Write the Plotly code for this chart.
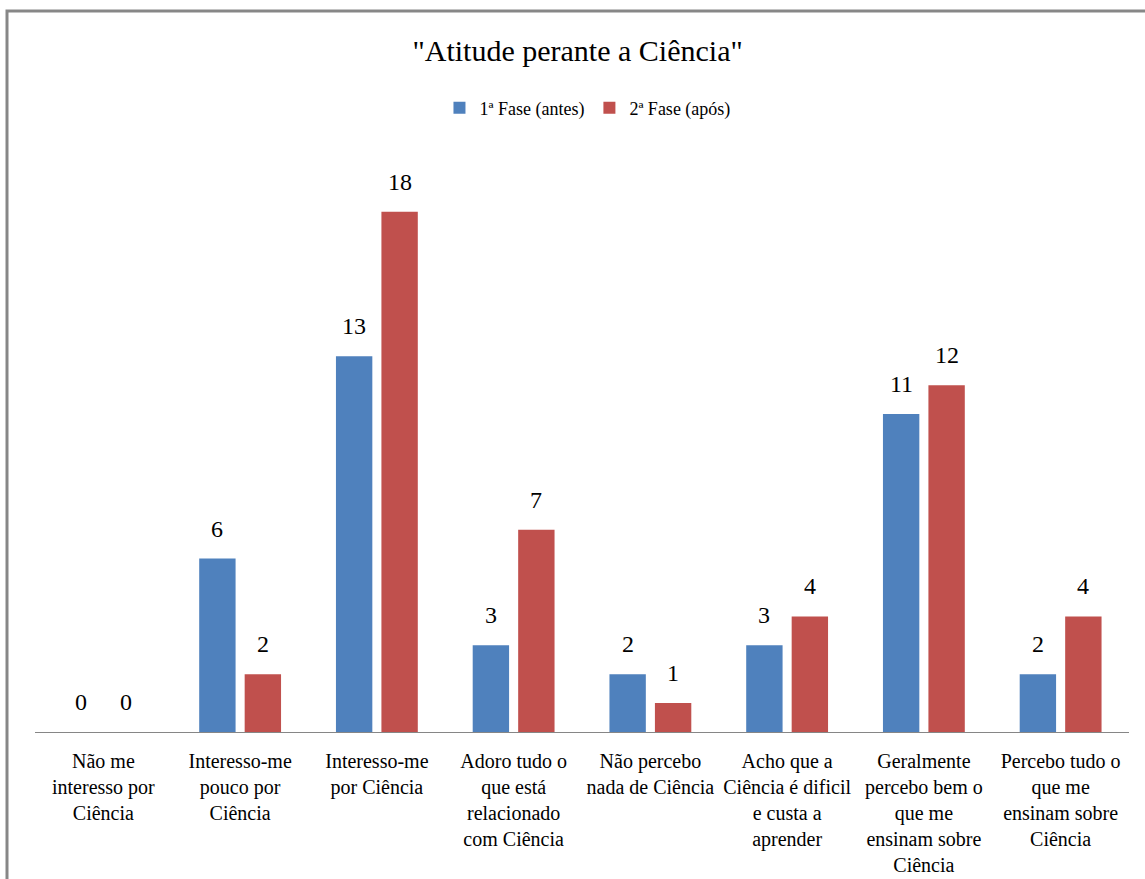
import plotly.graph_objects as go

categories = [
    "Não me<br>interesso por<br>Ciência",
    "Interesso-me<br>pouco por<br>Ciência",
    "Interesso-me<br>por Ciência",
    "Adoro tudo o<br>que está<br>relacionado<br>com Ciência",
    "Não percebo<br>nada de Ciência",
    "Acho que a<br>Ciência é dificil<br>e custa a<br>aprender",
    "Geralmente<br>percebo bem o<br>que me<br>ensinam sobre<br>Ciência",
    "Percebo tudo o<br>que me<br>ensinam sobre<br>Ciência",
]
fase1 = [0, 6, 13, 3, 2, 3, 11, 2]
fase2 = [0, 2, 18, 7, 1, 4, 12, 4]
series_names = ["1ª Fase (antes)", "2ª Fase (após)"]
title_text = '"Atitude perante a Ciência"'

BLUE = "#4F81BD"
RED = "#C0504D"
FONT = "'Liberation Serif', 'Times New Roman', 'DejaVu Serif', serif"

fig = go.Figure()
fig.add_trace(go.Bar(x=categories, y=fase1, name=series_names[0],
                     marker=dict(color=BLUE, line=dict(width=0))))
fig.add_trace(go.Bar(x=categories, y=fase2, name=series_names[1],
                     marker=dict(color=RED, line=dict(width=0))))

# value labels above bars
annotations = []
for vals, shift in ((fase1, -22.75), (fase2, 22.75)):
    for c, v in zip(categories, vals):
        annotations.append(dict(x=c, y=v, xref="x", yref="y", text=str(v),
                                showarrow=False, xshift=shift, yshift=15,
                                yanchor="bottom",
                                font=dict(family=FONT, size=24, color="black")))

fig.update_layout(
    width=1145, height=879,
    margin=dict(l=35, r=16, t=154, b=147, autoexpand=False),
    paper_bgcolor="white", plot_bgcolor="white",
    font=dict(family=FONT, color="black"),
    barmode="group", bargap=0.335, bargroupgap=0.2,
    title=dict(text=title_text, x=0.496, xref="paper", xanchor="center",
               y=1 - 50 / 879, yref="container", yanchor="middle",
               font=dict(family=FONT, size=30, color="black")),
    legend=dict(orientation="h", x=0.505, xanchor="center", y=1.0 + (154 - 108) / 578,
                yanchor="middle", font=dict(family=FONT, size=18, color="black"),
                itemwidth=30, traceorder="normal", bgcolor="rgba(0,0,0,0)"),
    annotations=annotations,
    showlegend=True,
)
fig.update_xaxes(showline=True, linecolor="#868686", linewidth=1, ticks="",
                 showgrid=False, zeroline=False, ticklabelstandoff=11,
                 automargin=False,
                 tickfont=dict(family=FONT, size=20, color="black"))
fig.update_yaxes(range=[0, 20], visible=False, showgrid=False, zeroline=False)

# outer chart border (partially cropped in reference)
fig.add_shape(type="rect", xref="paper", yref="paper",
              x0=(7 - 35) / 1094, x1=1.06, y0=-0.5, y1=(732 - 11) / 578,
              line=dict(color="#878787", width=3), fillcolor="rgba(0,0,0,0)",
              layer="above")

fig.write_html("out.html")
